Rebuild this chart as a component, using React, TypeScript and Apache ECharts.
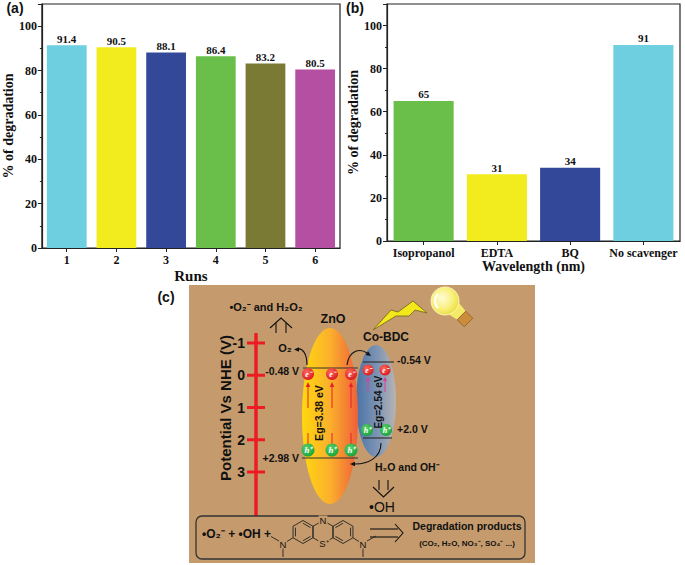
import React, { useEffect, useRef } from 'react';
import * as echarts from 'echarts';

const runs = ['1', '2', '3', '4', '5', '6'];
const runValues = [91.4, 90.5, 88.1, 86.4, 83.2, 80.5];
const runColors = ['#6dcfe0', '#f2ec1f', '#34489a', '#6abf4b', '#7b7a34', '#b54fa2'];
const scavengers = ['Isopropanol', 'EDTA', 'BQ', 'No scavenger'];
const scavengerValues = [65, 31, 34, 91];
const scavengerColors = ['#6abf4b', '#f2ec1f', '#34489a', '#6dcfe0'];
const potentialTicks = [-1, 0, 1, 2, 3];

const SANS = '"Liberation Sans", Arial, sans-serif';
const SERIF = '"Liberation Serif", "Times New Roman", serif';
const BROWN = '#c59b6d';

function txt(x: number, y: number, text: string, size: number, o: any = {}) {
  const style: any = {
    text,
    fill: o.fill || '#111',
    fontSize: size,
    fontWeight: o.weight || 'bold',
    fontFamily: o.family || SANS,
    fontStyle: o.fstyle || 'normal',
    align: o.align || 'center',
    verticalAlign: 'middle',
  };
  if (o.bg) {
    style.backgroundColor = o.bg;
    style.padding = [0, 1];
  }
  return { type: 'text', x, y, rotation: o.rotation || 0, z: o.z || 10, style };
}
function ln(x1: number, y1: number, x2: number, y2: number, color = '#222', w = 1, z = 5) {
  return { type: 'line', z, shape: { x1, y1, x2, y2 }, style: { stroke: color, lineWidth: w } };
}
function head(x: number, y: number, ang: number, size: number, color = '#111') {
  const bx = x - Math.cos(ang) * size;
  const by = y - Math.sin(ang) * size;
  const px = -Math.sin(ang) * size * 0.45;
  const py = Math.cos(ang) * size * 0.45;
  return {
    type: 'polygon',
    z: 6,
    shape: { points: [[x, y], [bx + px, by + py], [bx - px, by - py]] },
    style: { fill: color },
  };
}
function curve(x1: number, y1: number, c1x: number, c1y: number, c2x: number, c2y: number, x2: number, y2: number) {
  return {
    type: 'bezierCurve',
    z: 6,
    shape: { x1, y1, cpx1: c1x, cpy1: c1y, cpx2: c2x, cpy2: c2y, x2, y2 },
    style: { stroke: '#111', lineWidth: 1.1, fill: null },
  };
}
function particle(cx: number, cy: number, r: number, kind: 'e' | 'h') {
  const fill =
    kind === 'e'
      ? new echarts.graphic.RadialGradient(0.4, 0.35, 0.7, [
          { offset: 0, color: '#ff6a5a' },
          { offset: 1, color: '#d8141c' },
        ])
      : new echarts.graphic.RadialGradient(0.4, 0.35, 0.7, [
          { offset: 0, color: '#5fd36a' },
          { offset: 1, color: '#15a03a' },
        ]);
  return [
    { type: 'circle', z: 8, shape: { cx, cy, r }, style: { fill } },
    txt(cx + 0.5, cy, kind === 'e' ? 'e⁻' : 'h⁺', r * 1.35, {
      fill: '#fff',
      family: SERIF,
      fstyle: 'italic',
      z: 9,
    }),
  ];
}
function hexagon(cx: number, cy: number, s: number) {
  const h = (s * Math.sqrt(3)) / 2;
  return [
    [cx, cy - s],
    [cx + h, cy - s / 2],
    [cx + h, cy + s / 2],
    [cx, cy + s],
    [cx - h, cy + s / 2],
    [cx - h, cy - s / 2],
  ];
}

function buildDiagram(): any[] {
  const els: any[] = [];
  // background
  els.push({ type: 'rect', z: 1, shape: { x: 189, y: 285, width: 346, height: 278 }, style: { fill: BROWN } });

  // potential axis
  const y0 = 375.25;
  const step = 32.25;
  els.push(ln(256, 333, 256, 516, '#ec1c24', 3.5, 4));
  potentialTicks.forEach((p) => {
    const y = y0 + p * step;
    els.push(ln(247, y, 265, y, '#ec1c24', 3, 4));
    els.push(txt(245, y, p < 0 ? '-' + Math.abs(p) : String(p), 14, { align: 'right' }));
  });
  els.push(txt(225, 408, 'Potential Vs NHE (V)', 15, { rotation: Math.PI / 2 }));

  // top-left products
  els.push(txt(266, 307, '•O₂⁻ and H₂O₂', 11));
  // hollow up arrow
  els.push(ln(276, 333, 276, 323, '#111', 1.1));
  els.push(ln(286, 333, 286, 323, '#111', 1.1));
  els.push({
    type: 'polyline',
    z: 5,
    shape: { points: [[270, 328], [281, 318], [292, 328]] },
    style: { stroke: '#111', lineWidth: 1.1, fill: null },
  });
  els.push(txt(285, 348, 'O₂', 11));
  els.push(curve(307, 365, 307, 353, 302, 348, 298, 349));
  els.push(head(294, 349.5, Math.PI, 5));

  // lightning bolt
  els.push({
    type: 'polygon',
    z: 3,
    shape: {
      points: [
        [373, 330],
        [391, 310],
        [398, 312],
        [413, 301],
        [427, 313],
        [415, 310],
        [409, 316],
        [396, 316],
      ],
    },
    style: { fill: '#f3e81a', stroke: '#6e6020', lineWidth: 0.8 },
  });
  // bulb
  const bulbFill = new echarts.graphic.RadialGradient(0.4, 0.4, 0.65, [
    { offset: 0, color: '#fffbd8' },
    { offset: 0.6, color: '#f8f07a' },
    { offset: 1, color: '#eadc40' },
  ]);
  els.push({
    type: 'polygon',
    z: 3,
    shape: { points: [[457.7, 301.3], [465.7, 311.2], [457.2, 319.7], [446.3, 312.7]] },
    style: { fill: '#f3ea6a' },
  });
  els.push({ type: 'circle', z: 3, shape: { cx: 445, cy: 301, r: 14 }, style: { fill: bulbFill, stroke: '#fff6b0', lineWidth: 1 } });
  els.push({
    type: 'arc',
    z: 4,
    shape: { cx: 445, cy: 301, r: 10, startAngle: Math.PI * 0.75, endAngle: Math.PI * 1.25 },
    style: { stroke: '#ffffff', lineWidth: 2, fill: null },
  });
  els.push({
    type: 'polygon',
    z: 3,
    shape: { points: [[465.7, 311.2], [472.8, 318.3], [464.3, 326.8], [457.2, 319.7]] },
    style: { fill: '#c98d3c', stroke: '#8a5a20', lineWidth: 0.8 },
  });

  // ellipses
  const coFill = new echarts.graphic.LinearGradient(0, 0, 1, 0, [
    { offset: 0, color: '#4a73a6' },
    { offset: 0.55, color: '#7f95b4' },
    { offset: 1, color: '#b7b4b4' },
  ]);
  els.push({ type: 'ellipse', z: 2, shape: { cx: 376, cy: 401, rx: 20, ry: 56 }, style: { fill: coFill } });
  const znFill = new echarts.graphic.LinearGradient(0, 0, 1, 0, [
    { offset: 0, color: '#ffd80e' },
    { offset: 0.5, color: '#fbb02c' },
    { offset: 1, color: '#ef5f3a' },
  ]);
  els.push({ type: 'ellipse', z: 2, shape: { cx: 330, cy: 416, rx: 28, ry: 88 }, style: { fill: znFill } });

  els.push(txt(333, 319, 'ZnO', 12.5));
  els.push(txt(386, 337, 'Co-BDC', 12));

  // ZnO bands
  els.push(ln(303, 368, 358, 368, '#333', 1.2));
  els.push(ln(302, 458, 358, 458, '#333', 1.2));
  els.push(txt(299, 371, '-0.48 V', 10.5, { align: 'right' }));
  els.push(txt(299, 458, '+2.98 V', 10.5, { align: 'right' }));
  // Co-BDC bands
  els.push(ln(363, 362, 394, 362, '#333', 1.2));
  els.push(ln(363, 438, 392, 438, '#333', 1.2));
  els.push(txt(397, 360, '-0.54 V', 10.5, { align: 'left' }));
  els.push(txt(397, 429, '+2.0 V', 10.5, { align: 'left' }));

  // excitation arrows ZnO
  [308, 332, 351].forEach((x) => {
    els.push(ln(x, 408, x, 386, '#e8202a', 1));
    els.push(head(x, 382, -Math.PI / 2, 5, '#e8202a'));
    els.push(ln(x, 433, x, 444, '#e8202a', 1));
  });
  [368, 385].forEach((x) => {
    els.push(ln(x, 392, x, 380, '#d8409a', 1));
    els.push(head(x, 376.5, -Math.PI / 2, 4.5, '#d8409a'));
  });

  els.push(txt(319, 413, 'Eg=3.38 eV', 10.5, { rotation: Math.PI / 2 }));
  els.push(txt(378, 402, 'Eg=2.54 eV', 10, { rotation: Math.PI / 2 }));

  [308, 332, 351].forEach((x) => els.push(...particle(x, 374, 6, 'e')));
  [368, 385].forEach((x) => els.push(...particle(x, 370, 5.5, 'e')));
  [308, 332, 351].forEach((x) => els.push(...particle(x, 450, 6.5, 'h')));
  [367, 386].forEach((x) => els.push(...particle(x, 430, 6, 'h')));

  // transfer arrows
  els.push(curve(347, 365, 349, 350, 360, 348, 367, 353));
  els.push(head(371, 356, 0.6, 5));
  els.push(curve(381, 443, 381, 458, 368, 464, 355, 464));
  els.push(head(350, 464, Math.PI, 5));

  // water oxidation
  els.push(txt(375, 467, 'H₂O and OH⁻', 10.5, { align: 'left' }));
  els.push(ln(379, 480, 379, 490, '#111', 1.1));
  els.push(ln(388, 480, 388, 490, '#111', 1.1));
  els.push({
    type: 'polyline',
    z: 5,
    shape: { points: [[373, 487], [383.5, 497], [394, 487]] },
    style: { stroke: '#111', lineWidth: 1.1, fill: null },
  });
  els.push(txt(382, 507, '•OH', 14, { weight: 'normal' }));

  // bottom frame
  els.push({
    type: 'rect',
    z: 5,
    shape: { x: 196, y: 516, width: 329, height: 43, r: 6 },
    style: { fill: null, stroke: '#333', lineWidth: 1.3 },
  });
  els.push(txt(202, 534, '•O₂⁻ + •OH +', 12, { align: 'left' }));

  // methylene blue
  const s = 11.5;
  const centers = [303, 323, 343];
  const cy = 532;
  const mol = { stroke: '#222', lineWidth: 0.9, fill: null };
  centers.forEach((cx, k) => {
    const pts = hexagon(cx, cy, s);
    els.push({ type: 'polygon', z: 6, shape: { points: pts }, style: mol });
    const dbl = k === 0 ? [[0, 1], [2, 3], [4, 5]] : k === 2 ? [[5, 0], [1, 2], [3, 4]] : [];
    dbl.forEach(([a, b]) => {
      const f = 0.76;
      const pa = [cx + (pts[a][0] - cx) * f, cy + (pts[a][1] - cy) * f];
      const pb = [cx + (pts[b][0] - cx) * f, cy + (pts[b][1] - cy) * f];
      els.push({ type: 'line', z: 6, shape: { x1: pa[0], y1: pa[1], x2: pb[0], y2: pb[1] }, style: { stroke: '#222', lineWidth: 0.9 } });
    });
  });
  const h = (s * Math.sqrt(3)) / 2;
  // left NMe2
  els.push(ln(303 - h, cy + s / 2, 287, 541.5, '#222', 0.9, 6));
  els.push(ln(279, 541, 271, 536.5, '#222', 0.9, 6));
  els.push(ln(283, 548.5, 283, 557, '#222', 0.9, 6));
  els.push(txt(283, 544, 'N', 9.5, { weight: 'normal', z: 11 }));
  // right NMe2
  els.push(ln(343 + h, cy + s / 2, 359, 541.5, '#222', 0.9, 6));
  els.push(ln(367, 541, 376, 536, '#222', 0.9, 6));
  els.push(ln(363, 548.5, 363, 557, '#222', 0.9, 6));
  els.push(txt(363, 544, 'N', 9.5, { weight: 'normal', z: 11 }));
  els.push(txt(323, cy - s, 'N', 9.5, { weight: 'normal', bg: BROWN, z: 11 }));
  els.push(txt(324, cy + s, 'S⁺', 9.5, { weight: 'normal', bg: BROWN, z: 11 }));

  // double arrow
  els.push(ln(370, 529, 398, 529, '#111', 1.1));
  els.push(ln(370, 537, 398, 537, '#111', 1.1));
  els.push({
    type: 'polyline',
    z: 5,
    shape: { points: [[395, 524], [403, 533], [395, 542]] },
    style: { stroke: '#111', lineWidth: 1.1, fill: null },
  });
  els.push(txt(467, 526, 'Degradation products', 10.5));
  els.push(txt(467, 543, '(CO₂, H₂O, NO₃⁻, SO₄⁻ ...)', 8));

  // panel letters
  els.push(txt(15, 8, '(a)', 14));
  els.push(txt(355, 8, '(b)', 14));
  els.push(txt(166, 297, '(c)', 14));
  return els;
}

function yAxisCfg(gridIndex: number, nameGap: number) {
  return {
    gridIndex,
    type: 'value',
    min: 0,
    max: 110,
    interval: 20,
    axisLine: { show: true, lineStyle: { color: '#222', width: 1.2 } },
    axisTick: { show: true, length: 4, lineStyle: { color: '#222', width: 1 } },
    minorTick: { show: true, splitNumber: 2, length: 2, lineStyle: { color: '#222' } },
    splitLine: { show: false },
    axisLabel: {
      color: '#111',
      fontFamily: SERIF,
      fontWeight: 'bold',
      fontSize: 12,
      margin: 5,
      formatter: (v: number) => (v > 100 ? '' : String(v)),
    },
    name: '% of degradation',
    nameLocation: 'middle',
    nameGap,
    nameTextStyle: { color: '#111', fontFamily: SERIF, fontWeight: 'bold', fontSize: 14 },
  };
}
function xAxisCfg(gridIndex: number, data: string[], name: string, nameGap: number, nameSize: number) {
  return {
    gridIndex,
    type: 'category',
    data,
    axisLine: { show: true, lineStyle: { color: '#222', width: 1.2 } },
    axisTick: { show: true, alignWithLabel: true, length: 4, lineStyle: { color: '#222' } },
    axisLabel: { interval: 0, color: '#111', fontFamily: SERIF, fontWeight: 'bold', fontSize: 12, margin: 6 },
    name,
    nameLocation: 'middle',
    nameGap,
    nameTextStyle: { color: '#111', fontFamily: SERIF, fontWeight: 'bold', fontSize: nameSize },
  };
}

export default function App() {
  const ref = useRef<HTMLDivElement>(null);
  useEffect(() => {
    document.body.style.margin = '0';
    if (!ref.current) return;
    const chart = echarts.init(ref.current, undefined, { renderer: 'svg' });
    const labelStyle = { show: true, position: 'top', distance: 1, color: '#111', fontFamily: SERIF, fontWeight: 'bold', fontSize: 11 };
    chart.setOption({
      animation: false,
      backgroundColor: '#ffffff',
      grid: [
        { left: 32, top: 4, width: 308, height: 244, show: true, borderColor: '#222', borderWidth: 1.2, backgroundColor: 'transparent' },
        { left: 387, top: 4, width: 293, height: 237, show: true, borderColor: '#222', borderWidth: 1.2, backgroundColor: 'transparent' },
      ],
      xAxis: [xAxisCfg(0, runs, 'Runs', 20, 15), xAxisCfg(1, scavengers, 'Wavelength (nm)', 18, 14)],
      yAxis: [yAxisCfg(0, 20), yAxisCfg(1, 22)],
      series: [
        {
          type: 'bar',
          xAxisIndex: 0,
          yAxisIndex: 0,
          barCategoryGap: '20%',
          data: runValues.map((v, i) => ({ value: v, itemStyle: { color: runColors[i] } })),
          label: labelStyle,
        },
        {
          type: 'bar',
          xAxisIndex: 1,
          yAxisIndex: 1,
          barCategoryGap: '18%',
          data: scavengerValues.map((v, i) => ({ value: v, itemStyle: { color: scavengerColors[i] } })),
          label: labelStyle,
        },
      ],
      graphic: buildDiagram(),
    });
    return () => chart.dispose();
  }, []);
  return <div ref={ref} style={{ width: 685, height: 565 }} />;
}
